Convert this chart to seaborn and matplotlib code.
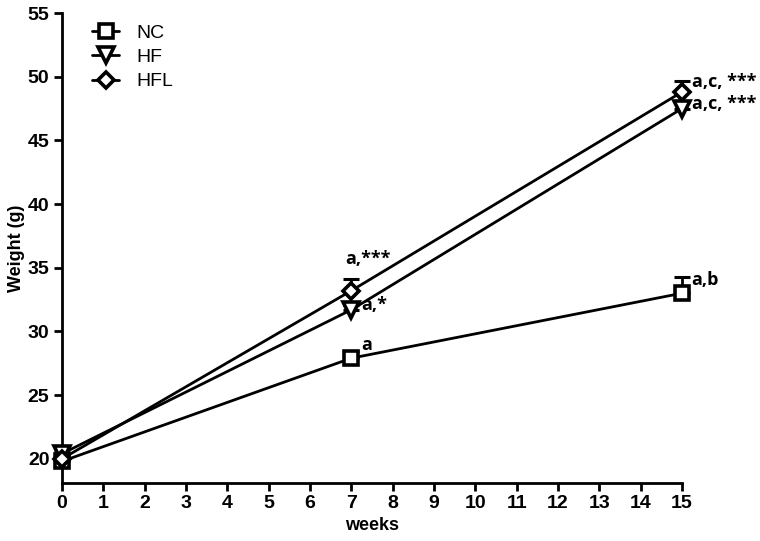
import matplotlib
matplotlib.use("Agg")
import matplotlib.pyplot as plt
import seaborn as sns
import pandas as pd
import numpy as np

# data
weeks = [0, 7, 15]
groups = ["NC", "HF", "HFL"]
nc_weight = [19.8, 27.9, 33.0]
hf_weight = [20.4, 31.7, 47.5]
hfl_weight = [20.0, 33.2, 48.8]
nc_err = [0.3, 0.6, 1.3]
hf_err = [0.2, 0.4, 0.5]
hfl_err = [0.2, 0.9, 0.9]
labels_nc = ["", "a", "a,b"]
labels_hf = ["", "a,*", "a,c, ***"]
labels_hfl = ["", "a,***", "a,c, ***"]

sns.set_style("ticks")
plt.rcParams["font.family"] = ["Liberation Sans Narrow", "Liberation Sans", "DejaVu Sans"]
for k in ["text.color", "axes.labelcolor", "xtick.color", "ytick.color", "axes.edgecolor"]:
    plt.rcParams[k] = "black"

df = pd.DataFrame({
    "weeks": weeks * 3,
    "weight": nc_weight + hf_weight + hfl_weight,
    "err": nc_err + hf_err + hfl_err,
    "group": np.repeat(groups, len(weeks)),
})

fig = plt.figure(figsize=(7.6, 5.41), dpi=100)
ax = fig.add_axes([62 / 760, 1 - 483 / 541, 620 / 760, 470 / 541])

markers = {"NC": "s", "HF": "v", "HFL": "D"}
sizes = {"NC": 10.5, "HF": 11, "HFL": 8.5}

for g in groups:
    sub = df[df["group"] == g]
    eb = ax.errorbar(sub["weeks"], sub["weight"],
                     yerr=[np.zeros(len(sub)), sub["err"]],
                     fmt="none", ecolor="black", elinewidth=2, capsize=6, capthick=2.2, zorder=2)
    for art in eb.lines[1] + eb.lines[2]:
        art.set_clip_on(False)

sns.lineplot(data=df, x="weeks", y="weight", hue="group", style="group",
             markers=markers, dashes=False, palette=["black"] * 3,
             linewidth=2, ax=ax, legend=False, zorder=3)
for line, g in zip(ax.lines[-3:], groups):
    line.set_marker(markers[g])
    line.set_markersize(sizes[g])
    line.set_markerfacecolor("white")
    line.set_markeredgecolor("black")
    line.set_markeredgewidth(2.6)
    line.set_clip_on(False)

# legend
handles = [plt.Line2D([], [], color="black", lw=2, marker=markers[g], markersize=sizes[g],
                      markerfacecolor="white", markeredgewidth=2.6) for g in groups]
ax.legend(handles, groups, loc="upper left", bbox_to_anchor=(0.02, 1.014), frameon=False,
          handlelength=1.4, handletextpad=0.9, labelspacing=0.35,
          prop={"family": ["Liberation Sans", "DejaVu Sans"], "size": 14})

# significance letters
ann_font = dict(fontsize=13, fontweight="bold", family=["Open Sans", "DejaVu Sans"])
for i, w in enumerate(weeks):
    if labels_nc[i]:
        ax.annotate(labels_nc[i], (w, nc_weight[i]), xytext=(7, 3),
                    textcoords="offset points", va="bottom", ha="left", **ann_font)
    if labels_hf[i]:
        ax.annotate(labels_hf[i], (w, hf_weight[i]), xytext=(7, -3),
                    textcoords="offset points", va="bottom", ha="left", **ann_font)
    if labels_hfl[i]:
        if w == 7:
            ax.annotate(labels_hfl[i], (w, hfl_weight[i] + hfl_err[i]), xytext=(12, 8),
                        textcoords="offset points", va="bottom", ha="center", **ann_font)
        else:
            ax.annotate(labels_hfl[i], (w, hfl_weight[i]), xytext=(7, 1),
                        textcoords="offset points", va="bottom", ha="left", **ann_font)

ax.set_xlim(0, 15)
ax.set_ylim(18.1, 55)
ax.set_xticks(range(0, 16))
ax.set_yticks(range(20, 56, 5))
ax.set_xlabel("weeks", fontsize=13, fontweight="bold", labelpad=3)
ax.set_ylabel("Weight (g)", fontsize=13, fontweight="bold", labelpad=2)
ax.tick_params(width=2, length=6, labelsize=14, pad=3)
for lab in ax.get_xticklabels() + ax.get_yticklabels():
    lab.set_fontweight("bold")
for s in ["left", "bottom"]:
    ax.spines[s].set_linewidth(2)
sns.despine(ax=ax)

fig.savefig("out.png", dpi=100)
